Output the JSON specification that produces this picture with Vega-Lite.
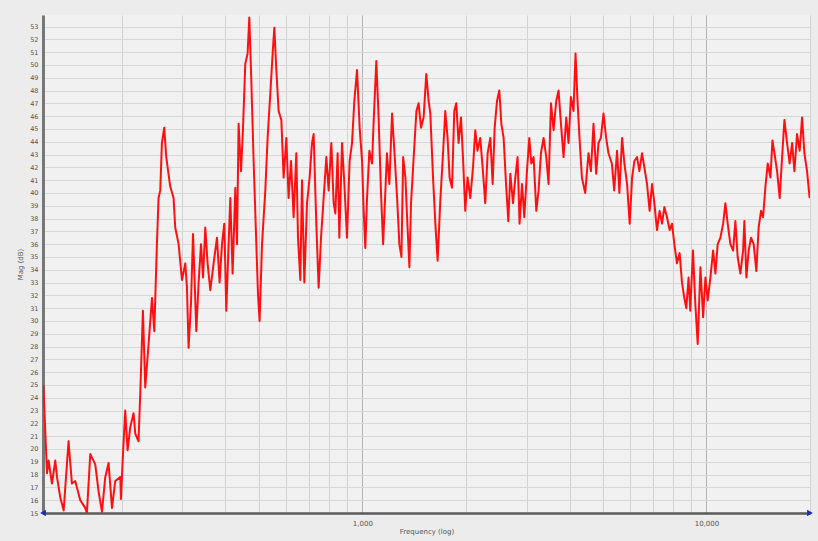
{
  "$schema": "https://vega.github.io/schema/vega-lite/v6.json",
  "width": 767,
  "height": 498,
  "autosize": {"type": "none"},
  "padding": {"left": 43, "top": 15, "right": 8, "bottom": 28},
  "background": "#ececec",
  "config": {
    "view": {"fill": "#f1f1f1", "stroke": null},
    "axis": {"labelFont": "DejaVu Sans", "titleFont": "DejaVu Sans", "labelColor": "#555555", "titleColor": "#555555", "labelFontSize": 7, "titleFontSize": 7, "titleFontWeight": "normal"}
  },
  "datasets": {
    "response": [
      {"f":118.3,"db":25.0},{"f":121.2,"db":18.1},{"f":122.5,"db":19.1},{"f":125.3,"db":17.3},{"f":128.1,"db":19.1},{"f":129.6,"db":17.8},{"f":132.5,"db":16.2},{"f":135.5,"db":15.2},{"f":140.0,"db":20.6},{"f":143.2,"db":17.3},{"f":146.4,"db":17.5},{"f":151.4,"db":16.0},{"f":156.5,"db":15.4},{"f":158.3,"db":15.0},{"f":161.9,"db":19.6},{"f":167.4,"db":18.8},{"f":171.1,"db":16.7},{"f":175.1,"db":15.1},{"f":179.0,"db":17.8},{"f":183.0,"db":18.9},{"f":187.2,"db":15.4},{"f":191.4,"db":17.5},{"f":197.9,"db":17.8},{"f":198.8,"db":16.1},{"f":201.5,"db":19.6},{"f":204.6,"db":23.0},{"f":207.8,"db":19.9},{"f":211.6,"db":21.7},{"f":216.3,"db":22.8},{"f":218.8,"db":21.2},{"f":223.6,"db":20.6},{"f":226.2,"db":24.3},{"f":230.3,"db":30.8},{"f":233.9,"db":24.8},{"f":239.2,"db":28.2},{"f":244.7,"db":31.8},{"f":248.5,"db":29.2},{"f":252.9,"db":36.0},{"f":255.7,"db":39.6},{"f":258.6,"db":40.2},{"f":261.5,"db":43.9},{"f":265.6,"db":45.1},{"f":269.2,"db":42.8},{"f":276.5,"db":40.5},{"f":282.7,"db":39.6},{"f":285.9,"db":37.3},{"f":292.4,"db":36.0},{"f":299.1,"db":33.2},{"f":305.8,"db":34.5},{"f":309.2,"db":32.6},{"f":312.6,"db":27.9},{"f":317.7,"db":31.4},{"f":322.0,"db":36.8},{"f":324.8,"db":33.9},{"f":329.2,"db":29.2},{"f":334.3,"db":33.0},{"f":339.7,"db":36.0},{"f":344.3,"db":33.4},{"f":349.6,"db":37.3},{"f":355.0,"db":34.5},{"f":361.5,"db":32.4},{"f":369.6,"db":34.5},{"f":378.0,"db":36.5},{"f":384.7,"db":33.0},{"f":390.9,"db":36.0},{"f":397.0,"db":37.6},{"f":402.3,"db":30.8},{"f":408.6,"db":36.0},{"f":413.3,"db":39.6},{"f":419.7,"db":33.7},{"f":427.4,"db":40.4},{"f":432.2,"db":36.0},{"f":436.9,"db":45.4},{"f":444.0,"db":41.7},{"f":450.0,"db":45.1},{"f":456.9,"db":50.1},{"f":464.0,"db":50.9},{"f":469.3,"db":53.7},{"f":474.7,"db":49.6},{"f":483.1,"db":42.5},{"f":491.9,"db":36.0},{"f":497.4,"db":32.1},{"f":502.8,"db":30.0},{"f":511.0,"db":36.0},{"f":522.4,"db":40.2},{"f":530.5,"db":44.3},{"f":540.2,"db":47.8},{"f":550.1,"db":51.4},{"f":554.9,"db":52.9},{"f":562.4,"db":49.6},{"f":571.1,"db":46.4},{"f":581.5,"db":45.7},{"f":590.5,"db":41.2},{"f":601.3,"db":44.3},{"f":610.5,"db":39.6},{"f":620.4,"db":42.5},{"f":631.3,"db":38.1},{"f":642.8,"db":43.1},{"f":650.1,"db":36.5},{"f":660.3,"db":33.2},{"f":667.8,"db":41.0},{"f":678.3,"db":33.0},{"f":690.5,"db":39.2},{"f":702.7,"db":41.2},{"f":714.0,"db":43.9},{"f":721.8,"db":44.6},{"f":734.9,"db":37.6},{"f":746.4,"db":32.6},{"f":758.4,"db":36.5},{"f":771.8,"db":39.6},{"f":785.9,"db":42.8},{"f":798.1,"db":40.2},{"f":812.6,"db":43.9},{"f":825.3,"db":39.2},{"f":834.6,"db":38.4},{"f":847.6,"db":43.1},{"f":857.3,"db":36.5},{"f":872.9,"db":43.9},{"f":886.6,"db":40.7},{"f":902.5,"db":36.5},{"f":918.5,"db":42.5},{"f":933.3,"db":43.9},{"f":947.9,"db":47.2},{"f":965.0,"db":49.6},{"f":982.1,"db":45.1},{"f":998.0,"db":42.5},{"f":1009,"db":38.6},{"f":1020,"db":35.7},{"f":1032,"db":39.6},{"f":1048,"db":43.3},{"f":1067,"db":42.3},{"f":1079,"db":45.7},{"f":1098,"db":50.3},{"f":1115,"db":45.9},{"f":1133,"db":40.0},{"f":1149,"db":36.0},{"f":1166,"db":40.0},{"f":1179,"db":43.1},{"f":1198,"db":40.7},{"f":1220,"db":46.2},{"f":1239,"db":43.3},{"f":1262,"db":39.6},{"f":1281,"db":36.0},{"f":1299,"db":35.0},{"f":1314,"db":42.8},{"f":1334,"db":41.2},{"f":1349,"db":38.1},{"f":1370,"db":34.2},{"f":1385,"db":39.2},{"f":1410,"db":42.8},{"f":1436,"db":46.4},{"f":1457,"db":47.0},{"f":1481,"db":45.1},{"f":1507,"db":45.9},{"f":1534,"db":49.3},{"f":1558,"db":47.2},{"f":1576,"db":46.2},{"f":1605,"db":41.2},{"f":1630,"db":37.6},{"f":1655,"db":34.7},{"f":1685,"db":39.4},{"f":1716,"db":43.1},{"f":1742,"db":46.4},{"f":1769,"db":44.3},{"f":1793,"db":41.2},{"f":1822,"db":40.4},{"f":1850,"db":46.4},{"f":1875,"db":47.0},{"f":1904,"db":43.9},{"f":1935,"db":45.9},{"f":1961,"db":42.8},{"f":1991,"db":38.6},{"f":2022,"db":41.2},{"f":2059,"db":39.6},{"f":2097,"db":42.0},{"f":2129,"db":44.9},{"f":2161,"db":43.3},{"f":2201,"db":44.3},{"f":2241,"db":41.7},{"f":2276,"db":39.2},{"f":2313,"db":43.1},{"f":2355,"db":44.3},{"f":2392,"db":40.7},{"f":2424,"db":45.1},{"f":2463,"db":47.2},{"f":2501,"db":48.0},{"f":2535,"db":45.4},{"f":2574,"db":44.3},{"f":2616,"db":40.7},{"f":2656,"db":37.8},{"f":2692,"db":41.5},{"f":2741,"db":39.2},{"f":2784,"db":41.2},{"f":2826,"db":42.8},{"f":2864,"db":37.6},{"f":2911,"db":40.7},{"f":2956,"db":38.1},{"f":3009,"db":41.7},{"f":3056,"db":44.3},{"f":3098,"db":42.3},{"f":3146,"db":42.8},{"f":3203,"db":38.6},{"f":3252,"db":40.2},{"f":3304,"db":43.1},{"f":3363,"db":44.3},{"f":3424,"db":42.8},{"f":3477,"db":40.7},{"f":3534,"db":47.0},{"f":3596,"db":44.9},{"f":3661,"db":47.2},{"f":3718,"db":48.0},{"f":3778,"db":45.4},{"f":3844,"db":42.8},{"f":3914,"db":45.9},{"f":3974,"db":43.9},{"f":4038,"db":47.5},{"f":4109,"db":46.4},{"f":4165,"db":50.9},{"f":4220,"db":47.2},{"f":4277,"db":44.3},{"f":4346,"db":41.2},{"f":4443,"db":40.0},{"f":4542,"db":43.1},{"f":4616,"db":41.7},{"f":4697,"db":45.4},{"f":4782,"db":41.5},{"f":4856,"db":43.9},{"f":4934,"db":44.3},{"f":5021,"db":46.2},{"f":5112,"db":44.3},{"f":5192,"db":43.1},{"f":5311,"db":42.3},{"f":5394,"db":40.2},{"f":5499,"db":43.3},{"f":5585,"db":40.0},{"f":5687,"db":44.3},{"f":5776,"db":42.3},{"f":5880,"db":40.7},{"f":5984,"db":37.6},{"f":6081,"db":41.2},{"f":6176,"db":42.5},{"f":6286,"db":42.8},{"f":6384,"db":41.7},{"f":6500,"db":43.1},{"f":6602,"db":42.0},{"f":6720,"db":40.7},{"f":6839,"db":38.6},{"f":6949,"db":40.7},{"f":7058,"db":39.2},{"f":7184,"db":37.1},{"f":7311,"db":38.6},{"f":7430,"db":37.6},{"f":7546,"db":38.9},{"f":7681,"db":38.1},{"f":7817,"db":37.1},{"f":7944,"db":37.6},{"f":8068,"db":36.0},{"f":8211,"db":34.5},{"f":8357,"db":35.3},{"f":8492,"db":33.0},{"f":8624,"db":31.8},{"f":8740,"db":31.0},{"f":8875,"db":33.4},{"f":8976,"db":30.8},{"f":9140,"db":35.5},{"f":9281,"db":31.4},{"f":9433,"db":28.2},{"f":9606,"db":34.2},{"f":9782,"db":30.3},{"f":9933,"db":33.4},{"f":10086,"db":31.6},{"f":10271,"db":33.4},{"f":10459,"db":35.5},{"f":10620,"db":33.7},{"f":10783,"db":36.0},{"f":10981,"db":36.5},{"f":11182,"db":37.6},{"f":11354,"db":39.2},{"f":11529,"db":37.6},{"f":11740,"db":36.0},{"f":11955,"db":35.5},{"f":12139,"db":37.8},{"f":12325,"db":35.0},{"f":12551,"db":33.7},{"f":12781,"db":35.5},{"f":12892,"db":37.8},{"f":13066,"db":33.4},{"f":13266,"db":35.5},{"f":13481,"db":36.5},{"f":13719,"db":36.0},{"f":13968,"db":33.9},{"f":14183,"db":37.3},{"f":14412,"db":38.6},{"f":14607,"db":38.1},{"f":14833,"db":40.4},{"f":15071,"db":42.3},{"f":15347,"db":41.2},{"f":15554,"db":44.1},{"f":15764,"db":43.1},{"f":16046,"db":41.7},{"f":16330,"db":39.6},{"f":16594,"db":42.8},{"f":16853,"db":45.7},{"f":17155,"db":43.9},{"f":17459,"db":42.3},{"f":17741,"db":43.9},{"f":18018,"db":41.7},{"f":18340,"db":44.6},{"f":18665,"db":43.3},{"f":18967,"db":45.9},{"f":19263,"db":43.1},{"f":19608,"db":41.7},{"f":19955,"db":39.6}
    ],
    "ends": [{"f":118,"db":15},{"f":20000,"db":15}]
  },
  "layer": [
    {
      "data": {"name": "response"},
      "mark": {"type": "line", "color": "#ff1010", "strokeWidth": 2, "strokeJoin": "round", "clip": true},
      "encoding": {
        "x": {
          "field": "f", "type": "quantitative",
          "scale": {"type": "log", "domain": [118, 20000], "nice": false},
          "axis": {
            "title": "Frequency (log)",
            "values": [200,300,400,500,600,700,800,900,1000,2000,3000,4000,5000,6000,7000,8000,9000,10000,20000],
            "tickCount": 40,
            "format": ",d",
            "labelExpr": "datum.value == 1000 || datum.value == 10000 ? datum.label : ''",
            "labelOverlap": false,
            "ticks": false,
            "labelPadding": 6,
            "titlePadding": 1,
            "domainColor": "#5a5a5a",
            "domainWidth": 2.5,
            "grid": true,
            "gridColor": {"condition": {"test": "datum.value == 1000 || datum.value == 10000", "value": "#b4b4b4"}, "value": "#d2d2d2"},
            "gridWidth": 1
          }
        },
        "y": {
          "field": "db", "type": "quantitative",
          "scale": {"domain": [15, 53.9], "nice": false, "zero": false},
          "axis": {
            "title": "Mag (dB)",
            "values": [15,16,17,18,19,20,21,22,23,24,25,26,27,28,29,30,31,32,33,34,35,36,37,38,39,40,41,42,43,44,45,46,47,48,49,50,51,52,53],
            "tickCount": 60,
            "format": "d",
            "labelOverlap": false,
            "labelFontSize": 6.5,
            "ticks": false,
            "labelPadding": 5,
            "titlePadding": 6,
            "domainColor": "#777777",
            "domainWidth": 3,
            "grid": true,
            "gridColor": "#d8d8d8",
            "gridWidth": 1
          }
        }
      }
    },
    {
      "data": {"name": "ends"},
      "transform": [{"filter": "datum.f < 1000"}],
      "mark": {"type": "point", "shape": "triangle-left", "filled": true, "color": "#1a2fb0", "size": 45, "opacity": 1, "clip": false},
      "encoding": {"x": {"field": "f", "type": "quantitative"}, "y": {"field": "db", "type": "quantitative"}}
    },
    {
      "data": {"name": "ends"},
      "transform": [{"filter": "datum.f > 1000"}],
      "mark": {"type": "point", "shape": "triangle-right", "filled": true, "color": "#1a2fb0", "size": 45, "opacity": 1, "clip": false},
      "encoding": {"x": {"field": "f", "type": "quantitative"}, "y": {"field": "db", "type": "quantitative"}}
    }
  ]
}
